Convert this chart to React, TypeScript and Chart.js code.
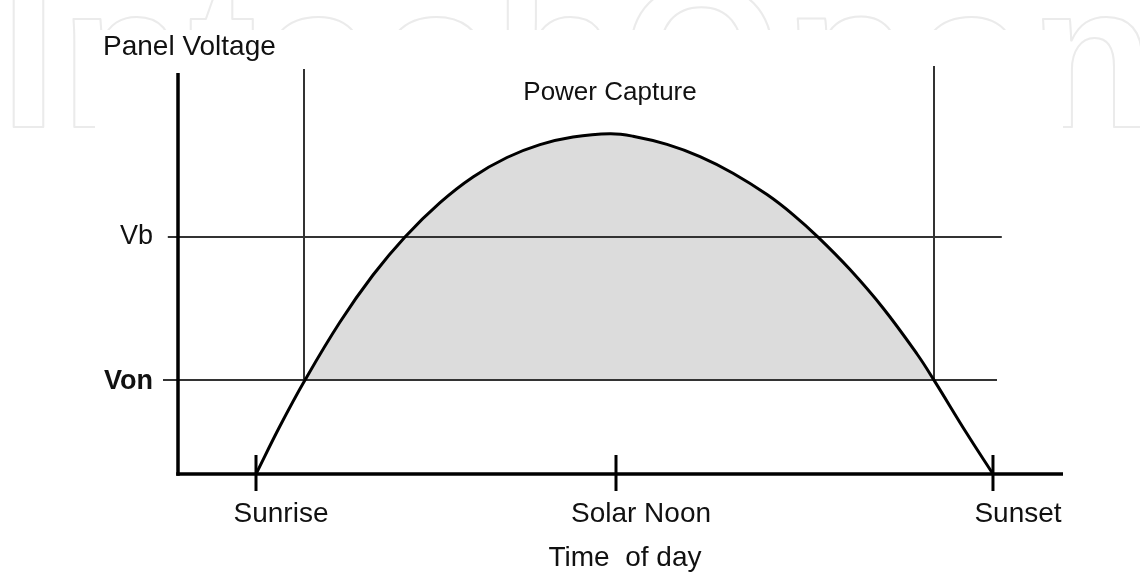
import React, { useEffect, useRef } from "react";
import { Chart, registerables } from "chart.js";

Chart.register(...registerables);

// ---- Data (time in hours, panel voltage in volts) ----
const timeHours = [6.0, 6.4, 6.817, 7.4, 7.95, 8.483, 9.067, 9.617, 10.183, 10.733, 11.283, 11.9, 12.283, 12.85, 13.4, 13.95, 14.517, 14.95, 15.372, 15.9, 16.45, 17.017, 17.292, 17.85, 18.283];
const panelVoltage = [0, 2.4, 4.7, 7.6, 9.95, 11.855, 13.57, 14.855, 15.825, 16.47, 16.85, 17.015, 16.89, 16.48, 15.87, 15.04, 13.97, 12.97, 11.83, 10.22, 8.3, 6.0, 4.73, 2.01, 0];

const levelNames = ["Vb", "Von"];
const levelValues = [11.85, 4.7];
const levelStart = [4.53, 4.45];
const levelEnd = [18.43, 18.35];

const captureBounds = [6.8, 17.3];
const captureTops = [20.25, 20.4];

const timeTicks = [6.0, 12.0, 18.283];
const timeTickLabels = ["Sunrise", "Solar Noon", "Sunset"];

const X_MIN = 4.7;
const X_MAX = 19.45;
const Y_MAX = 20.4;
const Y_AXIS_TOP = 20.05;

const FONT = '"Liberation Sans", Arial, sans-serif';

const watermarkPlugin = {
  id: "watermark",
  beforeDraw(chart: any) {
    const { ctx, width, height } = chart;
    ctx.save();
    ctx.fillStyle = "#ffffff";
    ctx.fillRect(0, 0, width, height);
    ctx.font = `bold 205px ${FONT}`;
    try {
      (ctx as any).letterSpacing = "3px";
    } catch (e) {}
    ctx.strokeStyle = "#ebebeb";
    ctx.lineWidth = 2;
    ctx.lineJoin = "round";
    ctx.textBaseline = "alphabetic";
    ctx.strokeText("IntechOpen", 0, 127);
    try {
      (ctx as any).letterSpacing = "0px";
    } catch (e) {}
    ctx.fillStyle = "#ffffff";
    ctx.fillRect(95, 30, 968, height - 30);
    ctx.restore();
  },
};

const axesPlugin = {
  id: "axesAndLabels",
  afterDatasetsDraw(chart: any) {
    const { ctx } = chart;
    const xs = chart.scales.x;
    const ys = chart.scales.y;
    const X = (v: number) => xs.getPixelForValue(v);
    const Y = (v: number) => ys.getPixelForValue(v);
    const axisY = Y(0);
    const axisX = X(X_MIN);

    ctx.save();
    ctx.strokeStyle = "#000";
    ctx.lineWidth = 3.5;
    ctx.lineCap = "butt";
    ctx.beginPath();
    ctx.moveTo(axisX, Y(Y_AXIS_TOP));
    ctx.lineTo(axisX, axisY + 1.75);
    ctx.stroke();
    ctx.beginPath();
    ctx.moveTo(axisX - 1.75, axisY);
    ctx.lineTo(X(X_MAX), axisY);
    ctx.stroke();
    ctx.lineWidth = 3;
    timeTicks.forEach((t) => {
      ctx.beginPath();
      ctx.moveTo(X(t), axisY - 19);
      ctx.lineTo(X(t), axisY + 17);
      ctx.stroke();
    });
    ctx.restore();
  },
  afterDraw(chart: any) {
    const { ctx, chartArea } = chart;
    const xs = chart.scales.x;
    const ys = chart.scales.y;
    const X = (v: number) => xs.getPixelForValue(v);
    const Y = (v: number) => ys.getPixelForValue(v);
    const axisY = Y(0);

    ctx.save();
    ctx.fillStyle = "#111";
    ctx.textBaseline = "alphabetic";

    ctx.font = `28px ${FONT}`;
    ctx.textAlign = "left";
    ctx.fillText("Panel Voltage", chartArea.left - 75, chartArea.top - 11);

    ctx.font = `26px ${FONT}`;
    ctx.textAlign = "center";
    ctx.fillText("Power Capture", X(12) - 6, chartArea.top + 34);

    ctx.textAlign = "right";
    ctx.font = `27px ${FONT}`;
    ctx.fillText(levelNames[0], chartArea.left - 25, Y(levelValues[0]) + 7);
    ctx.font = `bold 27px ${FONT}`;
    ctx.fillText(levelNames[1], chartArea.left - 25, Y(levelValues[1]) + 9);

    ctx.font = `28px ${FONT}`;
    ctx.textAlign = "center";
    timeTicks.forEach((t, i) => {
      ctx.fillText(timeTickLabels[i], X(t) + 25, axisY + 48);
    });

    ctx.fillText("Time  of day", X(12) + 9, axisY + 92);
    ctx.restore();
  },
};

export default function App() {
  const canvasRef = useRef<HTMLCanvasElement | null>(null);

  useEffect(() => {
    const canvas = canvasRef.current;
    if (!canvas) return;

    const curve = timeHours.map((t, i) => ({ x: t, y: panelVoltage[i] }));
    const lineStyle = {
      borderColor: "#333333",
      borderWidth: 2,
      pointRadius: 0,
      fill: false,
      clip: false as any,
      tension: 0,
    };

    const levelSets = levelNames.map((name, i) => ({
      label: name,
      data: [
        { x: levelStart[i], y: levelValues[i] },
        { x: levelEnd[i], y: levelValues[i] },
      ],
      ...lineStyle,
    }));

    const boundSets = captureBounds.map((b, i) => ({
      label: "bound" + i,
      data: [
        { x: b, y: levelValues[1] },
        { x: b, y: captureTops[i] },
      ],
      ...lineStyle,
    }));

    const chart = new Chart(canvas, {
      type: "line",
      data: {
        datasets: [
          {
            label: "Panel Voltage",
            data: curve,
            borderColor: "#000000",
            borderWidth: 3,
            pointRadius: 0,
            tension: 0.4,
            clip: false as any,
            fill: {
              target: { value: levelValues[1] },
              above: "#dcdcdc",
              below: "rgba(0,0,0,0)",
            },
          } as any,
          ...levelSets,
          ...boundSets,
        ],
      },
      options: {
        responsive: false,
        maintainAspectRatio: false,
        animation: false,
        events: [],
        layout: { padding: { left: 178, right: 77, top: 66, bottom: 98 } },
        scales: {
          x: { type: "linear", min: X_MIN, max: X_MAX, display: false },
          y: { type: "linear", min: 0, max: Y_MAX, display: false },
        },
        plugins: {
          legend: { display: false },
          tooltip: { enabled: false },
          filler: { drawTime: "beforeDatasetsDraw" } as any,
        },
      },
      plugins: [watermarkPlugin, axesPlugin],
    });

    return () => chart.destroy();
  }, []);

  return (
    <div style={{ position: "fixed", left: 0, top: 0, width: 1140, height: 572, background: "#fff" }}>
      <canvas ref={canvasRef} width={1140} height={572} style={{ display: "block", width: 1140, height: 572 }} />
    </div>
  );
}
